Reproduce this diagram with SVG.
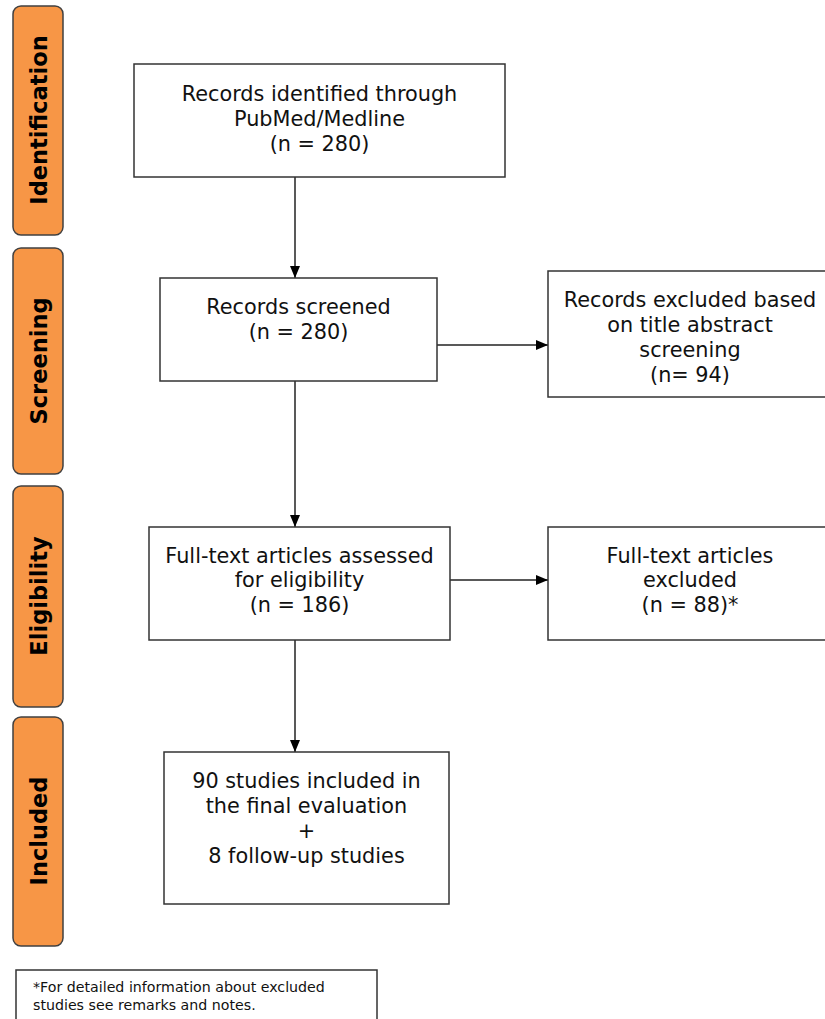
<svg xmlns="http://www.w3.org/2000/svg" width="825" height="1019" viewBox="0 0 825 1019">
<style>
.side{fill:#F79646;stroke:#404040;stroke-width:1.5}
.sl{font-family:"DejaVu Sans",sans-serif;font-weight:bold;font-size:22.5px;fill:#000;text-anchor:middle}
.box{fill:#fff;stroke:#333;stroke-width:1.5}
.t{font-family:"DejaVu Sans",sans-serif;font-size:20.8px;fill:#111;text-anchor:middle}
.fn{font-family:"DejaVu Sans",sans-serif;font-size:14.2px;fill:#111}
.c{stroke:#222;stroke-width:1.5;fill:none;marker-end:url(#ah)}
</style>
<defs>
<marker id="ah" viewBox="0 0 12 10" refX="12" refY="5" markerWidth="12" markerHeight="10" markerUnits="userSpaceOnUse" orient="auto">
<path d="M0,0 L12,5 L0,10 z" fill="#000"/>
</marker>
</defs>
<rect width="825" height="1019" fill="#fff"/>
<g id="phase-identification">
<rect class="side" x="13" y="6" width="50" height="229" rx="8"/>
<text class="sl" transform="translate(47,120) rotate(-90)">Identification</text>
</g>
<g id="phase-screening">
<rect class="side" x="13" y="248" width="50" height="226" rx="8"/>
<text class="sl" transform="translate(47,361) rotate(-90)">Screening</text>
</g>
<g id="phase-eligibility">
<rect class="side" x="13" y="486" width="50" height="221" rx="8"/>
<text class="sl" transform="translate(47,596) rotate(-90)">Eligibility</text>
</g>
<g id="phase-included">
<rect class="side" x="13" y="717" width="50" height="229" rx="8"/>
<text class="sl" transform="translate(47,831) rotate(-90)">Included</text>
</g>
<g id="connectors">
<path class="c" d="M295,177 V278"/>
<path class="c" d="M295,381 V527"/>
<path class="c" d="M295,640 V752"/>
<path class="c" d="M437,345 H548"/>
<path class="c" d="M450,580 H548"/>
</g>
<g id="identified">
<rect class="box" x="134" y="64" width="371" height="113"/>
<text class="t" x="319.5" y="101">Records identified through</text>
<text class="t" x="319.5" y="126">PubMed/Medline</text>
<text class="t" x="319.5" y="151">(n = 280)</text>
</g>
<g id="screened">
<rect class="box" x="160" y="278" width="277" height="103"/>
<text class="t" x="298.5" y="314">Records screened</text>
<text class="t" x="298.5" y="339">(n = 280)</text>
</g>
<g id="excluded-screening">
<rect class="box" x="548" y="271" width="280" height="126"/>
<text class="t" x="690" y="307">Records excluded based</text>
<text class="t" x="690" y="332">on title abstract</text>
<text class="t" x="690" y="357">screening</text>
<text class="t" x="690" y="382">(n= 94)</text>
</g>
<g id="fulltext">
<rect class="box" x="149" y="527" width="301" height="113"/>
<text class="t" x="299.5" y="563">Full-text articles assessed</text>
<text class="t" x="299.5" y="587">for eligibility</text>
<text class="t" x="299.5" y="612">(n = 186)</text>
</g>
<g id="excluded-fulltext">
<rect class="box" x="548" y="527" width="280" height="113"/>
<text class="t" x="690" y="563">Full-text articles</text>
<text class="t" x="690" y="587">excluded</text>
<text class="t" x="690" y="612">(n = 88)*</text>
</g>
<g id="included">
<rect class="box" x="164" y="752" width="285" height="152"/>
<text class="t" x="306.5" y="788">90 studies included in</text>
<text class="t" x="306.5" y="813">the final evaluation</text>
<text class="t" x="306.5" y="838">+</text>
<text class="t" x="306.5" y="863">8 follow-up studies</text>
</g>
<g id="footnote">
<rect class="box" x="16" y="970" width="361" height="60"/>
<text class="fn" x="33" y="992">*For detailed information about excluded</text>
<text class="fn" x="33" y="1010">studies see remarks and notes.</text>
</g>
</svg>
